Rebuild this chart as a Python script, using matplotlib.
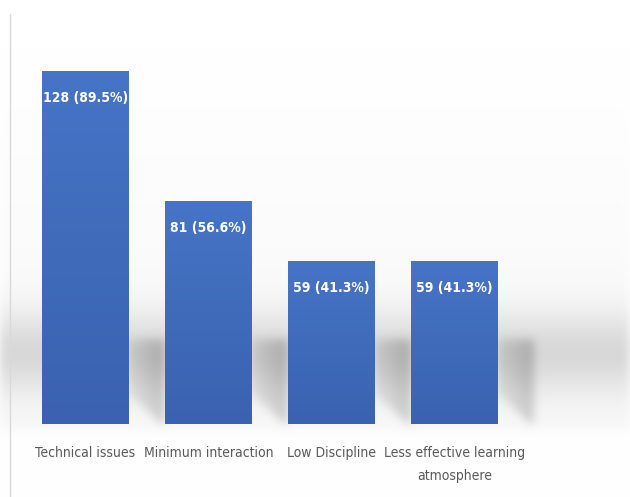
import matplotlib
matplotlib.use("Agg")
import matplotlib.pyplot as plt
import numpy as np

categories = ["Technical issues", "Minimum interaction", "Low Discipline",
              "Less effective learning\natmosphere"]
counts = [128, 81, 59, 59]
percents = [89.5, 56.6, 41.3, 41.3]

plt.rcParams['font.family'] = ['DejaVu Sans']
plt.rcParams['font.stretch'] = 'condensed'

W, H = 630, 497
fig = plt.figure(figsize=(W / 100, H / 100), dpi=100)
bg = fig.add_axes([0, 0, 1, 1], zorder=0)

ax = fig.add_axes([24 / W, (H - 424) / H, 492 / W, 410 / H], zorder=1)
ax.patch.set_alpha(0)
x = np.arange(len(categories))
bars = ax.bar(x, counts, width=0.707, color='#4472c4', zorder=2)

# slight vertical gradient on the bars
grad = np.linspace(0, 1, 100)[:, None]
cmap = matplotlib.colors.LinearSegmentedColormap.from_list('b', ['#3a62b0', '#4674c6'])
for b in bars:
    im = ax.imshow(grad, cmap=cmap, extent=[b.get_x(), b.get_x() + b.get_width(), 0, b.get_height()],
                   aspect='auto', origin='lower', zorder=2.1)
    im.set_clip_path(b)
ax.set_xlim(-0.5, len(categories) - 0.5)
ax.set_ylim(0, 128 * 410 / 353)

# background: grey band plus soft shadows to the right of each bar
rows = np.arange(H)[:, None]
cols = np.arange(W)[None, :]
dark = np.exp(-((rows - 352) / 40.0) ** 2) * 0.13 * np.ones((1, W))
dark += np.clip((rows - 60) / 300, 0, 1) * (rows < 430) * 0.025
fig.canvas.draw()
for b in bars:
    x0, y0 = ax.transData.transform((b.get_x() + b.get_width(), 0))
    right, base = x0, H - y0
    dx = cols - right
    inside = (dx >= 0) & (dx < 36) & (rows > 338) & (rows < base) & (rows - (base - 30) < dx * 0.9)
    dark += inside * (0.06 + 0.1 * np.clip(dx / 30, 0, 1))
k = np.exp(-np.arange(-14, 15) ** 2 / 40.0)
k /= k.sum()
dark = np.apply_along_axis(lambda r: np.convolve(r, k, mode='same'), 1, dark)
dark = np.apply_along_axis(lambda c: np.convolve(c, k, mode='same'), 0, dark)
shade = np.clip(1 - dark, 0, 1)
bg.imshow(np.dstack([shade, shade, shade]), extent=[0, W, H, 0], aspect='auto')
bg.plot([9.5, 9.5], [14, H], color='#d9d9d9', lw=1)
bg.set_xlim(0, W)
bg.set_ylim(H, 0)
bg.axis('off')

for b, c, p in zip(bars, counts, percents):
    ax.text(b.get_x() + b.get_width() / 2, c - 9.8, f"{c} ({p}%)",
            ha='center', va='center', color='white', fontsize=10,
            fontweight='bold', zorder=3)

ax.set_xticks(x)
ax.set_xticklabels(categories, fontsize=10, color='#595959', linespacing=1.8)
ax.tick_params(axis='x', length=0, pad=16)
ax.set_yticks([])
for s in ax.spines.values():
    s.set_visible(False)

fig.savefig("out.png", dpi=100)
